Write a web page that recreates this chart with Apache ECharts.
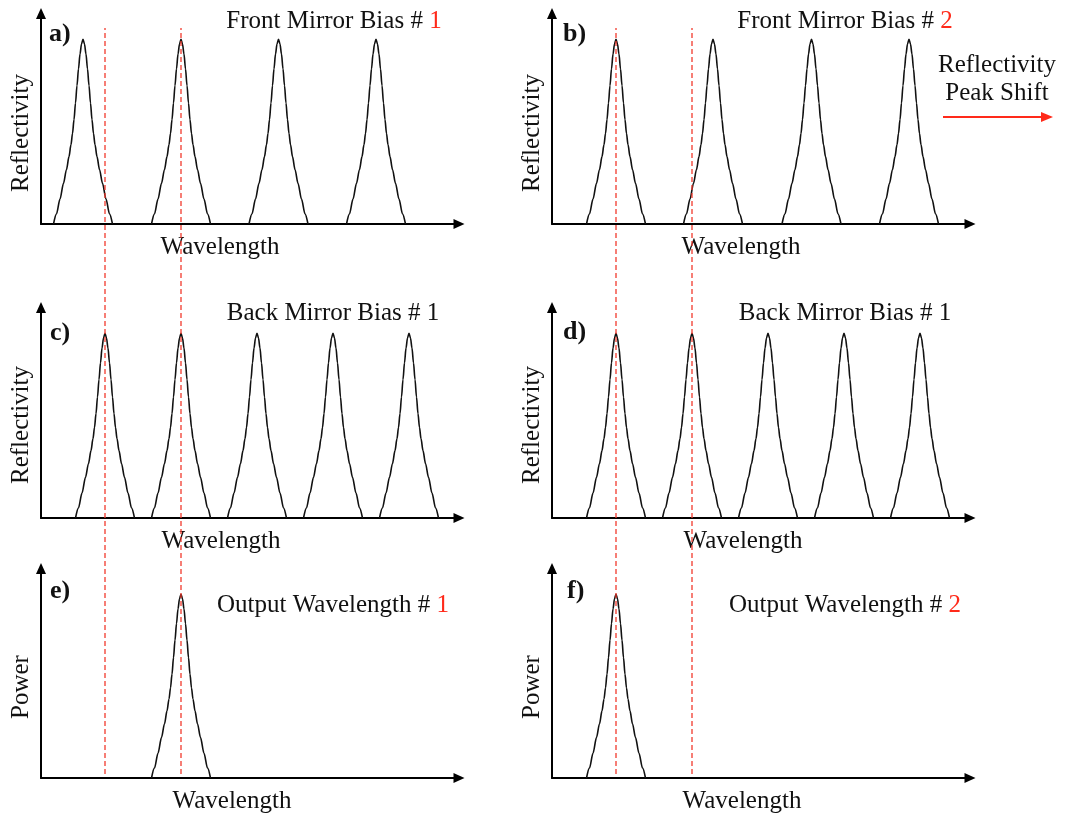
<!DOCTYPE html>
<html>
<head>
<meta charset="utf-8">
<script src="https://cdn.jsdelivr.net/npm/echarts@6/dist/echarts.min.js"></script>
<style>
html,body{margin:0;padding:0;background:#fff;}
#chart{width:1065px;height:817px;}
</style>
</head>
<body>
<div id="chart"></div>
<script>
// ---- data ----
// one reflectivity peak profile: distance from the peak centre vs relative height
const profileOffset = [0, 1.5, 3, 4.5, 6, 7.5, 9, 10.5, 12, 14, 16.5, 19.5, 23, 26.5, 29.5];
const profileHeight = [1, 0.975, 0.92, 0.84, 0.75, 0.655, 0.565, 0.49, 0.43, 0.365, 0.295, 0.22, 0.135, 0.055, 0];
// peak centres (wavelength units along each panel's axis)
const peaksA = [42, 140, 237.5, 335];
const peaksB = [64, 161, 259.5, 357];
const peaksC = [64, 140, 216, 292, 368];
const peaksD = [64, 140, 216, 292, 368];
const peaksE = [140];
const peaksF = [64];
// red dashed guide wavelengths
const guideWavelengths = [64, 140];
const xRange = [0, 418];
const yRange = [0, 1.14];
// texts
const panelLetters = ['a)', 'b)', 'c)', 'd)', 'e)', 'f)'];
const panelTitles = ['Front Mirror Bias # ', 'Front Mirror Bias # ', 'Back Mirror Bias # ', 'Back Mirror Bias # ', 'Output Wavelength # ', 'Output Wavelength # '];
const titleNumbers = ['1', '2', '1', '1', '1', '2'];
const titleNumberRed = [true, true, false, false, true, true];
const yNames = ['Reflectivity', 'Reflectivity', 'Reflectivity', 'Reflectivity', 'Power', 'Power'];
const xNames = ['Wavelength', 'Wavelength', 'Wavelength', 'Wavelength', 'Wavelength', 'Wavelength'];
const shiftNote = ['Reflectivity', 'Peak Shift'];

// ---- layout (positions / styles) ----
const layout = [
  {left: 41,  top: 13.5,  height: 210.5, xPad: 60, yPad: 28.5, lx: 49,  ly: 34,  tx: 334, ty: 21},
  {left: 552, top: 13.5,  height: 210.5, xPad: 40, yPad: 28.5, lx: 563, ly: 34,  tx: 845, ty: 21},
  {left: 41,  top: 307.5, height: 210.5, xPad: 58, yPad: 24.5, lx: 50,  ly: 333, tx: 333, ty: 313},
  {left: 552, top: 307.5, height: 210.5, xPad: 36, yPad: 24.5, lx: 563, ly: 332, tx: 845, ty: 313},
  {left: 41,  top: 568.5, height: 209.5, xPad: 36, yPad: 27.5, lx: 50,  ly: 591, tx: 333, ty: 605},
  {left: 552, top: 568.5, height: 209.5, xPad: 38, yPad: 27.5, lx: 567, ly: 591, tx: 845, ty: 605}
];
const gridWidth = 418;
const FONT = "'Liberation Serif', 'Times New Roman', Times, serif";
const FS = 25;
const RED = '#ff2a1a';
const panelPeaks = [peaksA, peaksB, peaksC, peaksD, peaksE, peaksF];

function peakPoints(center) {
  const pts = [];
  for (let i = profileOffset.length - 1; i >= 1; i--) pts.push([center - profileOffset[i], profileHeight[i]]);
  for (let i = 0; i < profileOffset.length; i++) pts.push([center + profileOffset[i], profileHeight[i]]);
  return pts;
}

const grids = [], xAxes = [], yAxes = [], series = [], graphics = [];
const axisLineStyle = {
  show: true, onZero: true, symbol: ['none', 'triangle'], symbolSize: [10, 11],
  lineStyle: {color: '#000', width: 2}
};

layout.forEach((L, i) => {
  grids.push({left: L.left, top: L.top, width: gridWidth, height: L.height, containLabel: false, outerBoundsMode: 'none'});
  xAxes.push({
    gridIndex: i, type: 'value', min: xRange[0], max: xRange[1],
    axisLine: axisLineStyle, axisTick: {show: false}, axisLabel: {show: false}, splitLine: {show: false},
    name: xNames[i], nameLocation: 'middle', nameGap: 11, nameMoveOverlap: false,
    nameTextStyle: {fontFamily: FONT, fontSize: FS, color: '#111', padding: [0, L.xPad, 0, 0]}
  });
  yAxes.push({
    gridIndex: i, type: 'value', min: yRange[0], max: yRange[1],
    axisLine: axisLineStyle, axisTick: {show: false}, axisLabel: {show: false}, splitLine: {show: false},
    name: yNames[i], nameLocation: 'middle', nameGap: 7, nameMoveOverlap: false,
    nameTextStyle: {fontFamily: FONT, fontSize: FS, color: '#111', padding: [0, L.yPad, 0, 0]}
  });
  panelPeaks[i].forEach(c => {
    series.push({
      type: 'line', xAxisIndex: i, yAxisIndex: i, data: peakPoints(c),
      showSymbol: false, symbol: 'none', smooth: 0.3, smoothMonotone: 'x',
      lineStyle: {color: '#111', width: 1.6}, silent: true, animation: false, z: 2
    });
  });
  graphics.push({
    type: 'text', x: L.lx, y: L.ly,
    style: {text: panelLetters[i], font: 'bold 26px ' + FONT, fill: '#111', align: 'left', verticalAlign: 'middle'}
  });
  graphics.push({
    type: 'text', x: L.tx, y: L.ty,
    style: {
      text: panelTitles[i] + '{n|' + titleNumbers[i] + '}',
      font: FS + 'px ' + FONT, fill: '#111', align: 'center', verticalAlign: 'middle',
      rich: {n: {font: FS + 'px ' + FONT, fill: titleNumberRed[i] ? RED : '#111'}}
    }
  });
});

// overlay grids carrying the red dashed guide lines across each column
[41, 552].forEach((left, k) => {
  const gi = layout.length + k;
  grids.push({left: left, top: 28, width: gridWidth, height: 746, outerBoundsMode: 'none'});
  xAxes.push({gridIndex: gi, type: 'value', min: xRange[0], max: xRange[1], show: false});
  yAxes.push({gridIndex: gi, type: 'value', min: 0, max: 1, show: false});
  guideWavelengths.forEach(w => {
    series.push({
      type: 'line', xAxisIndex: gi, yAxisIndex: gi, data: [[w, 0], [w, 1]],
      showSymbol: false, symbol: 'none',
      lineStyle: {color: '#f2392c', width: 1.3, type: [5, 3]}, silent: true, animation: false, z: 3
    });
  });
});

// "Reflectivity Peak Shift" note with red arrow
graphics.push({
  type: 'text', x: 997, y: 79,
  style: {text: shiftNote.join('\n'), font: FS + 'px ' + FONT, fill: '#111', align: 'center', verticalAlign: 'middle', lineHeight: 28}
});
graphics.push({type: 'line', shape: {x1: 943, y1: 117, x2: 1044, y2: 117}, style: {stroke: RED, lineWidth: 2}});
graphics.push({type: 'polygon', shape: {points: [[1053, 117], [1041, 112], [1041, 122]]}, style: {fill: RED}});

const chart = echarts.init(document.getElementById('chart'), null, {renderer: 'canvas'});
chart.setOption({
  backgroundColor: '#fff',
  animation: false,
  grid: grids, xAxis: xAxes, yAxis: yAxes, series: series, graphic: graphics
});
</script>
</body>
</html>
